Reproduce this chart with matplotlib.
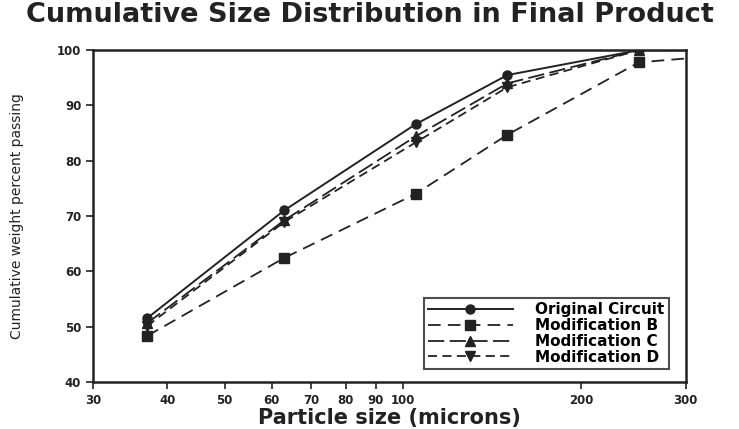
import matplotlib.pyplot as plt
from matplotlib.ticker import FixedLocator, NullLocator

# particle size (microns) and cumulative weight percent passing
sizes = [37, 63, 105, 150, 250, 300]
original = [51.5, 71.0, 86.6, 95.5, 100.0, 100.0]
mod_b = [48.3, 62.4, 74.0, 84.7, 97.8, 98.5]
mod_c = [50.6, 69.2, 84.4, 94.0, 100.0, 100.0]
mod_d = [50.1, 68.9, 83.3, 93.3, 100.0, 100.0]

xticks = [30, 40, 50, 60, 70, 80, 90, 100, 200, 300]
yticks = [40, 50, 60, 70, 80, 90, 100]

fig = plt.figure(figsize=(7.39, 4.29), dpi=100)
ax = fig.add_axes([0.126, 0.110, 0.802, 0.773])

show = slice(0, 5)
ax.plot(sizes, original, color="#222222", lw=1.4, ls="-", marker="o", ms=6.5,
        markevery=show, label="Original Circuit")
ax.plot(sizes, mod_b, color="#222222", lw=1.3, ls=(0, (7, 4)), marker="s", ms=6.5,
        markevery=show, label="Modification B")
ax.plot(sizes, mod_c, color="#222222", lw=1.3, ls=(0, (9, 3)), marker="^", ms=6.5,
        markevery=show, label="Modification C")
ax.plot(sizes, mod_d, color="#222222", lw=1.3, ls=(0, (5, 3)), marker="v", ms=6.5,
        markevery=show, label="Modification D")

ax.set_xscale("log")
ax.set_xlim(30, 300)
ax.set_ylim(40, 100)
ax.xaxis.set_major_locator(FixedLocator(xticks))
ax.xaxis.set_minor_locator(NullLocator())
ax.set_xticklabels([str(t) for t in xticks])
ax.set_yticks(yticks)
ax.tick_params(direction="out", length=5, width=1.2, labelsize=8.5,
               colors="#222222")
for lbl in ax.get_xticklabels() + ax.get_yticklabels():
    lbl.set_fontweight("bold")
for s in ax.spines.values():
    s.set_linewidth(1.8)
    s.set_color("#222222")

ax.set_xlabel("Particle size (microns)", fontsize=15, fontweight="bold",
              color="#222222", labelpad=1)
ax.set_ylabel("Cumulative weight percent passing", fontsize=10,
              color="#222222", labelpad=24)
fig.suptitle("Cumulative Size Distribution in Final Product", x=0.5, y=0.995,
             fontsize=19.5, fontweight="bold", color="#222222")

leg = ax.legend(loc="lower right", bbox_to_anchor=(0.985, 0.015),
                prop={"weight": "bold", "size": 11}, frameon=True, fancybox=False,
                edgecolor="#222222", handlelength=5.5, labelspacing=0.05,
                borderpad=0.3, handletextpad=1.5)
leg.get_frame().set_linewidth(1.5)

fig.savefig("out.png", dpi=100)
